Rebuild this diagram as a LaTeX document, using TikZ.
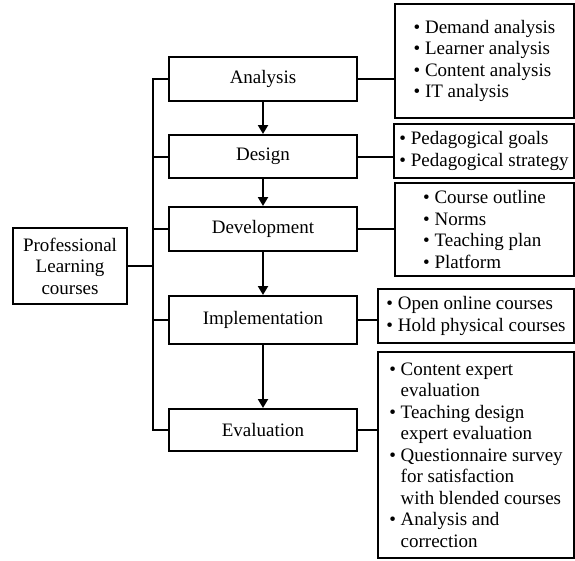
\documentclass[tikz,border=0pt]{standalone}
\usepackage{fontspec}
\setmainfont{Liberation Serif}
\usetikzlibrary{arrows.meta}
\begin{document}
\begin{tikzpicture}[x=1pt,y=-1pt,
  every node/.style={font=\fontsize{19}{21.5}\selectfont},
  box/.style={draw,line width=2pt,inner sep=0pt,align=center},
  stage/.style={box,minimum width=188pt},
  detail/.style={box,align=left},
  conn/.style={line width=2pt},
  flow/.style={line width=2pt,-{Triangle[length=9pt,width=10pt]}}
]
\useasboundingbox (0,0) rectangle (575,560);
% main stages
\node[stage,minimum height=44pt] (ana) at (263,79) {Analysis};
\node[stage,minimum height=43pt] (des) at (263,156.5) {Design};
\node[stage,minimum height=44pt] (dev) at (263,229) {Development};
\node[stage,minimum height=48pt] (imp) at (263,320) {Implementation};
\node[stage,minimum height=42pt] (eva) at (263,430) {Evaluation};
% root
\node[box,minimum width=114pt,minimum height=76pt] (prof) at (70,266)
  {Professional\\Learning\\courses};
% details
\node[detail,minimum width=179pt,minimum height=114pt] (anad) at (484.5,61)
  {• Demand analysis\\• Learner analysis\\• Content analysis\\• IT analysis};
\node[detail,minimum width=180pt,minimum height=54pt] (desd) at (484,151)
  {• Pedagogical goals\\• Pedagogical strategy};
\node[detail,minimum width=179pt,minimum height=93pt] (devd) at (484.5,229.5)
  {• Course outline\\• Norms\\• Teaching plan\\• Platform};
\node[detail,minimum width=196pt,minimum height=54pt] (impd) at (476,316)
  {• Open online courses\\• Hold physical courses};
\node[detail,minimum width=196pt,minimum height=206pt] (evad) at (476,455)
  {•~Content expert\\\phantom{•~}evaluation\\•~Teaching design\\\phantom{•~}expert evaluation\\•~Questionnaire survey\\\phantom{•~}for satisfaction\\\phantom{•~}with blended courses\\•~Analysis and\\\phantom{•~}correction};
% trunk
\coordinate (t) at (153,0);
\draw[conn] (prof.east) -- (prof.east -| t);
\draw[conn] (ana.west) -- (ana.west -| t) -- (eva.west -| t) -- (eva.west);
\draw[conn] (des.west) -- (des.west -| t);
\draw[conn] (dev.west) -- (dev.west -| t);
\draw[conn] (imp.west) -- (imp.west -| t);
% flow arrows
\draw[flow] (ana) -- (des);
\draw[flow] (des) -- (dev);
\draw[flow] (dev) -- (imp);
\draw[flow] (imp) -- (eva);
% right connectors
\draw[conn] (ana.east) -- (anad.west |- ana.east);
\draw[conn] (des.east) -- (desd.west |- des.east);
\draw[conn] (dev.east) -- (devd.west |- dev.east);
\draw[conn] (imp.east) -- (impd.west |- imp.east);
\draw[conn] (eva.east) -- (evad.west |- eva.east);
\end{tikzpicture}
\end{document}
